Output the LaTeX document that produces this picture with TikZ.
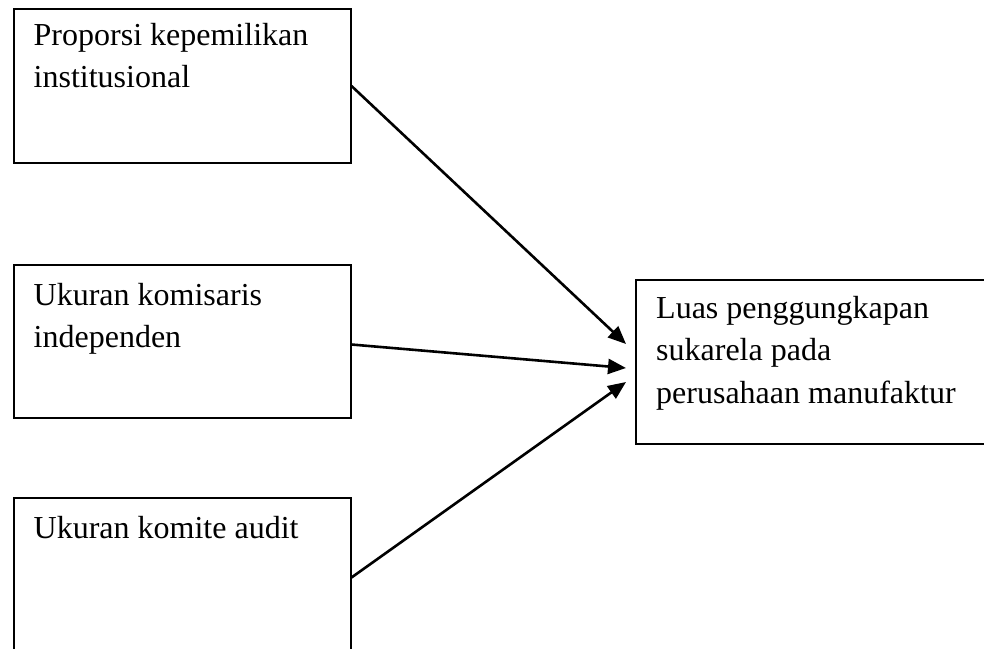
\documentclass[tikz,border=0pt]{standalone}
\usepackage{fontspec}
\setmainfont{Liberation Serif}
\usetikzlibrary{arrows.meta, calc}

\begin{document}
\begin{tikzpicture}[x=1pt, y=-1pt,
    varbox/.style={draw=black, line width=2pt, inner sep=0pt, anchor=north west},
    lbl/.style={anchor=base west, align=left, inner sep=0pt, font=\fontsize{32}{42.5}\selectfont},
    arr/.style={line width=2.6pt, -{Triangle[length=18pt, width=15pt]}}]
    \useasboundingbox (0,0) rectangle (984,648);
    % independent variables
    \node[varbox, minimum width=337pt, minimum height=154pt] (inst) at (12.5, 8) {};
    \node[varbox, minimum width=337pt, minimum height=153pt] (komis) at (12.5, 264) {};
    \node[varbox, minimum width=337pt, minimum height=153pt] (audit) at (12.5, 497) {};
    % (base of a multi-line label = its last line)
    \node[lbl] (instL) at ($(inst.north west)+(21,79.5)$) {Proporsi kepemilikan\\institusional};
    \node[lbl] (komisL) at ($(komis.north west)+(21,83.5)$) {Ukuran komisaris\\independen};
    \node[lbl] (auditL) at ($(audit.north west)+(21,41)$) {Ukuran komite audit};
    % dependent variable
    \node[varbox, minimum width=350pt, minimum height=164pt] (luas) at (635, 279) {};
    \node[lbl] (luasL) at ($(luas.north west)+(21,124)$) {Luas penggungkapan\\sukarela pada\\perusahaan manufaktur};
    \coordinate (t1) at ($(luas.west)+(-9,-18)$);
    \coordinate (t2) at ($(luas.west)+(-9,6)$);
    \coordinate (t3) at ($(luas.west)+(-9,20)$);
    \draw[arr] (inst.east) -- (t1);
    \draw[arr] ($(komis.east)+(0,3)$) -- (t2);
    \draw[arr] ($(audit.east)+(0,3)$) -- (t3);
\end{tikzpicture}
\end{document}
